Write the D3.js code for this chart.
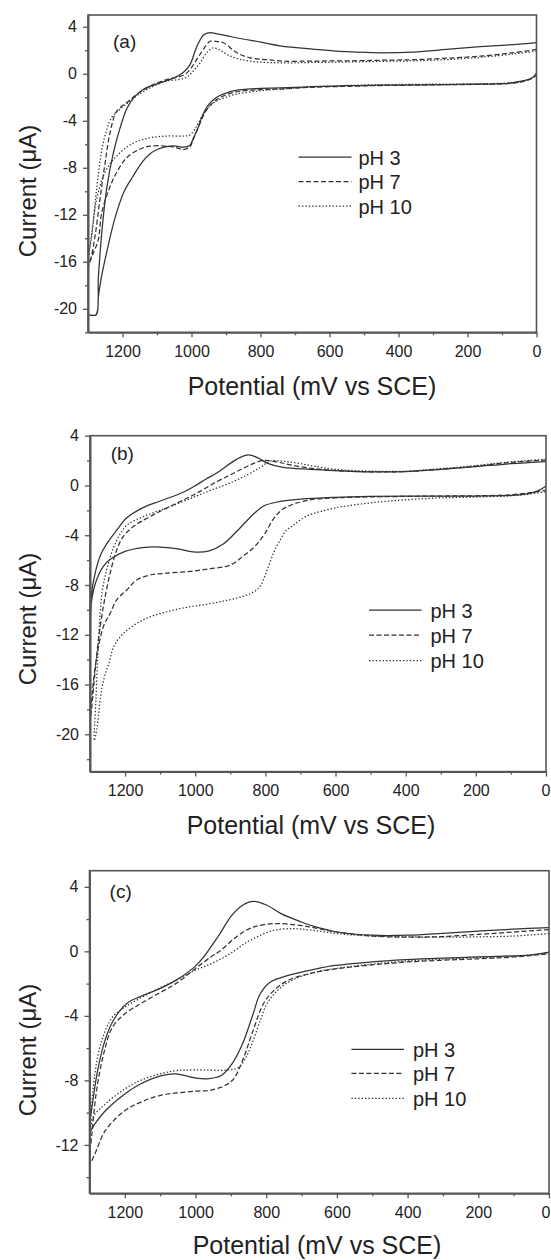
<!DOCTYPE html>
<html><head><meta charset="utf-8">
<script src="https://cdn.jsdelivr.net/npm/d3@7"></script>
<style>body{margin:0;background:#fff}svg{display:block}</style>
</head><body><svg id="chart" width="551" height="1260"></svg>
<script>
// ---------------- data ----------------
const xTickLabels = [1200, 1000, 800, 600, 400, 200, 0];
const seriesNames = ["pH 3", "pH 7", "pH 10"];
const panelTags = ["(a)", "(b)", "(c)"];
const xTitle = "Potential (mV vs SCE)";
const yTitle = "Current (\u03bcA)";
const yTicksA = [4, 0, -4, -8, -12, -16, -20];
const yTicksB = [4, 0, -4, -8, -12, -16, -20];
const yTicksC = [4, 0, -4, -8, -12];

// each series: [potential mV, current uA], traversing the voltammogram loop
const aPH3 = [[0,2.64],[50,2.52],[100,2.42],[163,2.3],[260,2.07],[356,1.85],[453,1.78],[550,1.88],[650,2.1],[743,2.38],[800,2.7],[860,3.0],[900,3.25],[930,3.42],[946,3.49],[965,3.3],[980,2.6],[990,1.9],[1004,0.8],[1024,0.1],[1050,-0.35],[1091,-0.77],[1140,-1.34],[1169,-2.1],[1188,-3.0],[1207,-4.6],[1227,-6.8],[1246,-9.8],[1260,-13.5],[1270,-17.3],[1277,-20.5],[1300,-20.5],
  [1276,-20.5],[1270,-19],[1263,-17.6],[1246,-15.2],[1231,-13.3],[1217,-11.8],[1195,-10.0],[1169,-8.7],[1145,-7.6],[1120,-6.8],[1096,-6.4],[1072,-6.2],[1045,-6.15],[1024,-6.25],[1005,-6.1],[995,-5.5],[980,-4.5],[966,-3.4],[950,-2.6],[927,-2.0],[900,-1.65],[879,-1.45],[840,-1.3],[800,-1.25],[743,-1.2],[650,-1.1],[550,-1.02],[450,-0.97],[356,-0.95],[260,-0.92],[163,-0.88],[100,-0.85],[67,-0.75],[30,-0.55],[10,-0.3],[0,0.05]];
const aPH7 = [[0,2.07],[67,1.79],[163,1.5],[260,1.32],[356,1.2],[450,1.15],[550,1.1],[650,1.08],[733,1.07],[782,1.2],[830,1.36],[869,1.79],[907,2.64],[930,2.75],[946,2.77],[966,2.07],[985,1.2],[1004,0.37],[1024,-0.13],[1072,-0.49],[1120,-1.05],[1159,-1.76],[1188,-2.47],[1217,-3.2],[1236,-5.0],[1251,-7.7],[1265,-10.6],[1278,-13.5],[1290,-15.5],[1300,-16.4],
  [1285,-15.3],[1270,-14.1],[1260,-11.8],[1236,-9.6],[1217,-8.4],[1188,-7.15],[1149,-6.4],[1120,-6.16],[1072,-6.16],[1043,-6.3],[1024,-6.45],[1004,-6.2],[995,-5.6],[975,-4.2],[956,-3.05],[927,-2.2],[879,-1.6],[800,-1.35],[743,-1.3],[650,-1.15],[550,-1.07],[450,-1.0],[356,-0.97],[260,-0.93],[163,-0.9],[67,-0.8],[30,-0.6],[10,-0.35],[0,-0.1]];
const aPH10 = [[0,1.95],[67,1.68],[163,1.4],[260,1.2],[356,1.1],[450,1.05],[550,1.0],[650,0.96],[733,0.93],[830,1.07],[888,1.5],[920,2.05],[937,2.2],[956,1.79],[975,0.94],[995,0.22],[1014,-0.3],[1040,-0.5],[1072,-0.62],[1120,-1.2],[1160,-1.9],[1190,-2.6],[1210,-3.1],[1231,-3.7],[1256,-5.9],[1275,-9.8],[1289,-13.8],[1300,-15.8],
  [1289,-13.5],[1275,-10.7],[1251,-8.4],[1217,-7.0],[1169,-5.9],[1120,-5.45],[1072,-5.3],[1024,-5.3],[1004,-5.2],[985,-4.45],[966,-3.45],[937,-2.5],[879,-1.8],[800,-1.45],[743,-1.3],[650,-1.12],[550,-1.0],[450,-0.93],[356,-0.9],[260,-0.88],[163,-0.85],[67,-0.75],[30,-0.55],[10,-0.3],[0,0.0]];

const bPH3 = [[0,1.92],[100,1.75],[200,1.52],[300,1.3],[400,1.12],[500,1.1],[600,1.2],[672,1.3],[749,1.45],[795,1.8],[820,2.2],[848,2.45],[882,2.1],[939,1.0],[970,0.5],[996,0.05],[1034,-0.55],[1100,-1.25],[1150,-1.8],[1195,-2.6],[1224,-3.6],[1250,-4.6],[1270,-5.6],[1285,-7.0],[1297,-9.0],[1300,-12],[1300,-17.5],[1299,-12],[1296,-9.4],[1285,-7.9],[1262,-6.5],[1240,-5.9],[1200,-5.3],[1150,-5.0],[1100,-4.95],[1050,-5.1],[1000,-5.35],[960,-5.25],[920,-4.7],[882,-3.7],[855,-2.9],[830,-2.2],[805,-1.65],[770,-1.35],[700,-1.1],[600,-0.95],[500,-0.88],[400,-0.85],[300,-0.85],[200,-0.85],[100,-0.8],[50,-0.65],[20,-0.4],[0,-0.05]];
const bPH7 = [[0,2.05],[100,1.85],[200,1.55],[300,1.3],[400,1.12],[500,1.1],[600,1.2],[700,1.5],[760,1.85],[790,2.0],[810,2.0],[835,1.75],[862,1.4],[900,0.85],[939,0.3],[996,-0.63],[1053,-1.43],[1129,-2.5],[1176,-3.3],[1205,-4.1],[1224,-5.2],[1243,-7.1],[1262,-9.75],[1276,-12.4],[1286,-15.1],[1295,-17.8],[1300,-19],
  [1293,-16.5],[1281,-13.8],[1262,-11.35],[1243,-10.3],[1224,-9.2],[1195,-8.4],[1167,-7.6],[1129,-7.2],[1081,-7.05],[1014,-6.9],[958,-6.7],[900,-6.4],[860,-5.6],[830,-4.9],[800,-3.8],[775,-2.6],[750,-1.9],[720,-1.5],[672,-1.15],[600,-1.0],[500,-0.92],[400,-0.88],[300,-0.85],[200,-0.83],[100,-0.75],[50,-0.6],[0,-0.4]];
const bPH10 = [[0,2.1],[100,1.9],[200,1.6],[300,1.35],[400,1.15],[500,1.15],[600,1.3],[650,1.5],[700,1.75],[750,1.95],[785,1.95],[815,1.45],[855,0.8],[905,0.15],[955,-0.37],[1005,-0.95],[1081,-1.8],[1148,-2.5],[1195,-3.2],[1214,-3.9],[1233,-5.0],[1250,-6.5],[1265,-8.5],[1275,-12],[1283,-17.2],[1288,-20.5],
  [1280,-19.5],[1270,-17],[1260,-15.5],[1245,-14.2],[1233,-13.0],[1205,-11.9],[1148,-10.8],[1081,-10.15],[1014,-9.75],[939,-9.4],[862,-8.9],[830,-8.5],[815,-8.1],[795,-6.8],[775,-5.3],[758,-4.4],[740,-3.6],[720,-3.2],[685,-2.5],[600,-1.8],[500,-1.4],[400,-1.15],[300,-1.0],[200,-0.93],[100,-0.83],[50,-0.7],[0,-0.5]];

const cPH3 = [[0,1.47],[100,1.38],[200,1.26],[300,1.12],[400,1.0],[500,1.0],[600,1.2],[650,1.45],[700,1.82],[758,2.34],[798,2.86],[837,3.1],[867,2.86],[897,2.24],[937,0.89],[977,-0.35],[1001,-0.93],[1056,-1.8],[1106,-2.36],[1156,-2.8],[1190,-3.15],[1215,-3.7],[1240,-4.6],[1260,-5.8],[1278,-7.5],[1290,-9.2],[1300,-11.2],
  [1285,-10.7],[1255,-9.88],[1200,-8.84],[1156,-8.22],[1096,-7.7],[1056,-7.6],[1001,-7.85],[967,-7.9],[927,-7.7],[897,-6.98],[867,-5.73],[837,-3.87],[817,-2.63],[788,-1.9],[738,-1.49],[658,-1.08],[604,-0.87],[504,-0.66],[405,-0.52],[300,-0.42],[206,-0.35],[100,-0.28],[62,-0.25],[0,-0.04]];
const cPH7 = [[0,1.35],[100,1.2],[200,1.05],[300,0.92],[400,0.88],[500,0.95],[600,1.2],[650,1.4],[700,1.6],[778,1.72],[830,1.55],[857,1.3],[890,0.8],[932,0.0],[957,-0.35],[1001,-1.08],[1056,-2.0],[1106,-2.63],[1156,-3.25],[1200,-3.87],[1235,-4.7],[1260,-6.36],[1280,-8.63],[1293,-11.3],[1300,-13.2],
  [1285,-12.57],[1255,-11.1],[1200,-9.88],[1156,-9.36],[1101,-8.94],[1001,-8.67],[957,-8.6],[917,-8.32],[892,-7.9],[867,-6.77],[837,-4.9],[808,-3.25],[778,-2.42],[738,-1.8],[658,-1.28],[559,-0.97],[400,-0.66],[201,-0.46],[100,-0.35],[0,-0.15]];
const cPH10 = [[0,1.1],[100,0.95],[200,0.9],[300,0.88],[400,0.9],[500,0.95],[600,1.1],[650,1.25],[700,1.38],[728,1.41],[780,1.3],[827,0.89],[860,0.5],[892,0.0],[927,-0.46],[960,-0.8],[1001,-1.18],[1056,-1.8],[1106,-2.32],[1156,-2.9],[1200,-3.46],[1235,-4.08],[1265,-5.5],[1285,-7.6],[1297,-10.7],[1300,-11.8],
  [1290,-10.3],[1255,-9.46],[1200,-8.53],[1156,-8.0],[1101,-7.6],[1056,-7.4],[1001,-7.35],[907,-7.35],[877,-7.18],[857,-6.56],[837,-5.53],[817,-4.29],[798,-3.25],[768,-2.42],[728,-1.8],[658,-1.28],[559,-0.93],[400,-0.6],[201,-0.39],[100,-0.3],[0,-0.1]];

// ---------------- layout ----------------
const FONT = "'Liberation Sans', Arial, Helvetica, sans-serif";
const INK = "#222";
const AX = "#555";
const LINE = "#333";
const dashes = [null, "5,2.5", "1.4,2"];
const W = 551;

const panels = [
  {tag: panelTags[0], series: [aPH3, aPH7, aPH10], yTicks: yTicksA, yDom: [-22, 5],
   x0: 88, x1: 536.5, y0: 15, y1: 332.3, tagX: 113, tagY: 48,
   legX1: 298.5, legX2: 351.5, legT: 358.5, legY: [157, 181.5, 206],
   yTitleY: 191, xTitleX: 312, xTitleY: 395},
  {tag: panelTags[1], series: [bPH3, bPH7, bPH10], yTicks: yTicksB, yDom: [-23, 4],
   x0: 90, x1: 546, y0: 435.7, y1: 771.6, tagX: 110.7, tagY: 460,
   legX1: 369, legX2: 421.6, legT: 430.4, legY: [610, 635, 660.5],
   yTitleY: 619, xTitleX: 311, xTitleY: 834},
  {tag: panelTags[2], series: [cPH3, cPH7, cPH10], yTicks: yTicksC, yDom: [-15, 5],
   x0: 89.5, x1: 549, y0: 870.7, y1: 1193.3, tagX: 109.6, tagY: 898,
   legX1: 351.4, legX2: 404, legT: 412.9, legY: [1049.3, 1073.3, 1098.3],
   yTitleY: 1050, xTitleX: 317, xTitleY: 1254}
];

const svg = d3.select("#chart");
svg.append("rect").attr("width", W).attr("height", 1260).attr("fill", "#fff");

function styleAxis(g) {
  g.select(".domain").attr("stroke", AX).attr("stroke-width", 1.6);
  g.selectAll(".tick line").attr("stroke", AX).attr("stroke-width", 1.3);
  g.selectAll(".tick text").attr("fill", INK).style("font-family", FONT).style("font-size", "16px");
}

panels.forEach((p, pi) => {
  const x = d3.scaleLinear().domain([1300, 0]).range([p.x0, p.x1]);
  const y = d3.scaleLinear().domain(p.yDom).range([p.y1, p.y0]);
  const g = svg.append("g");

  const clipId = "clip" + pi;
  g.append("clipPath").attr("id", clipId).append("rect")
    .attr("x", p.x0).attr("y", p.y0).attr("width", p.x1 - p.x0).attr("height", p.y1 - p.y0);

  const line = d3.line().x(d => x(d[0])).y(d => y(d[1])).curve(d3.curveCatmullRom.alpha(0.5));
  const lg = g.append("g").attr("clip-path", `url(#${clipId})`);
  p.series.forEach((s, i) => {
    lg.append("path").attr("d", line(s)).attr("fill", "none")
      .attr("stroke", LINE).attr("stroke-width", 1.25)
      .attr("stroke-dasharray", dashes[i]).attr("stroke-linejoin", "round");
  });

  // frame
  g.append("rect").attr("x", p.x0).attr("y", p.y0).attr("width", p.x1 - p.x0).attr("height", p.y1 - p.y0)
    .attr("fill", "none").attr("stroke", AX).attr("stroke-width", 1.6);

  // x axis
  const xa = g.append("g").attr("transform", `translate(0,${p.y1})`)
    .call(d3.axisBottom(x).tickValues(xTickLabels).tickSize(5).tickSizeOuter(0).tickPadding(8.5).tickFormat(d => String(d)));
  styleAxis(xa);
  // keep labels that would run off the right edge inside the page
  xa.selectAll(".tick text").each(function(d) {
    const bb = this.getBBox();
    const right = x(d) + bb.x + bb.width;
    if (right > W - 1) d3.select(this).attr("dx", (W - 1 - right) + "px");
  });
  const xm = g.append("g").attr("transform", `translate(0,${p.y1})`)
    .call(d3.axisBottom(x).tickValues(d3.range(100, 1300, 200)).tickSize(3).tickSizeOuter(0).tickFormat(""));
  styleAxis(xm);

  // y axis
  const ya = g.append("g").attr("transform", `translate(${p.x0},0)`)
    .call(d3.axisLeft(y).tickValues(p.yTicks).tickSize(5).tickSizeOuter(0).tickPadding(6).tickFormat(d => String(d)));
  styleAxis(ya);
  const minorY = d3.range(Math.ceil(p.yDom[0] / 2) * 2, p.yDom[1] + 0.001, 2).filter(v => v % 4 !== 0);
  const ym = g.append("g").attr("transform", `translate(${p.x0},0)`)
    .call(d3.axisLeft(y).tickValues(minorY).tickSize(3).tickSizeOuter(0).tickFormat(""));
  styleAxis(ym);

  // panel tag
  g.append("text").attr("x", p.tagX).attr("y", p.tagY).text(p.tag)
    .attr("fill", INK).style("font-family", FONT).style("font-size", "19px");

  // legend
  seriesNames.forEach((name, i) => {
    g.append("line").attr("x1", p.legX1).attr("x2", p.legX2).attr("y1", p.legY[i]).attr("y2", p.legY[i])
      .attr("stroke", LINE).attr("stroke-width", 1.25).attr("stroke-dasharray", dashes[i]);
    g.append("text").attr("x", p.legT).attr("y", p.legY[i] + 7.5).text(name)
      .attr("fill", INK).style("font-family", FONT).style("font-size", "20px");
  });

  // axis titles
  g.append("text").attr("x", p.xTitleX).attr("y", p.xTitleY).attr("text-anchor", "middle").text(xTitle)
    .attr("fill", INK).style("font-family", FONT).style("font-size", "25px");
  g.append("text").attr("transform", `translate(36,${p.yTitleY}) rotate(-90)`).attr("text-anchor", "middle").text(yTitle)
    .attr("fill", INK).style("font-family", FONT).style("font-size", "24px");
});
</script>
</body></html>
